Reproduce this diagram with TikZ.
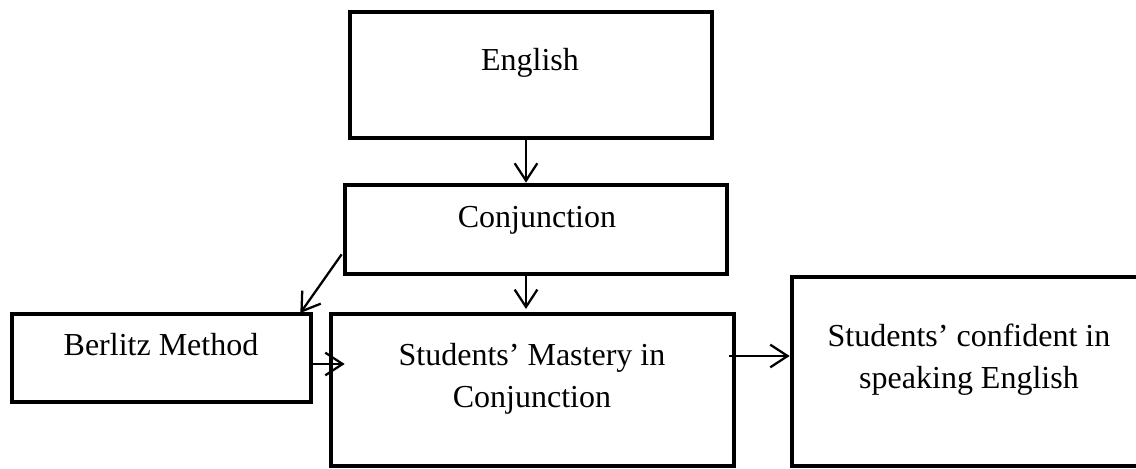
\documentclass[tikz,border=0pt]{standalone}
\usepackage{fontspec}
\setmainfont{Liberation Serif}
\usepackage{tikz}
\usetikzlibrary{positioning, calc, arrows.meta}

\begin{document}
\begin{tikzpicture}[x=0.75pt, y=-0.75pt,
    box/.style={draw, line width=3.5pt, rectangle, inner sep=0pt},
    txt/.style={anchor=base, align=center, inner sep=0pt,
        font=\fontsize{24}{31.5}\selectfont},
    arr/.style={line width=1.7pt, -{Straight Barb[length=13pt,width=17pt]}}]
    \useasboundingbox (0,0) rectangle (1136,468);
    \clip (0,0) rectangle (1136,468);

    % 枠の描画
    \node[box, minimum width=271.5pt, minimum height=94.5pt] (english) at (531,75) {};
    \node[box, minimum width=286.5pt, minimum height=66.75pt] (conj) at (536,229.5) {};
    \node[box, minimum width=224.25pt, minimum height=66pt] (berlitz) at (161.5,358) {};
    \node[box, minimum width=302.25pt, minimum height=114pt] (mastery) at (532.5,390) {};
    \node[box, minimum width=268.5pt, minimum height=141.75pt] (confident) at (971,371.5) {};

    % 文字
    \node[txt] (englishtxt) at (530,70) {English};
    \node[txt] (conjtxt) at (537,227) {Conjunction};
    \node[txt] (berlitztxt) at (161,355) {Berlitz Method};
    \node[txt] (masterytxt) at (532,407) {Students’ Mastery in\\Conjunction};
    \node[txt] (confidenttxt) at (969,388) {Students’ confident in\\speaking English};

    % 矢印
    \draw[arr] ([xshift=-3.75pt]english.south) -- ([xshift=-3.75pt]english.south |- conj.north);
    \draw[arr] ([xshift=-7.5pt]conj.south) -- ([xshift=-7.5pt,yshift=2pt]conj.south |- mastery.north);
    \draw[arr] ($(conj.south west)+(-1,-22)$) -- ([xshift=-9.75pt,yshift=-1pt]berlitz.north east);
    \draw[arr] ([yshift=-4.5pt]berlitz.east) -- ([xshift=12pt,yshift=-4.5pt]berlitz.east -| mastery.west);
    \draw[arr] ([xshift=-5.25pt,yshift=25.5pt]mastery.east) -- ([yshift=25.5pt]mastery.east -| confident.west);

\end{tikzpicture}
\end{document}
